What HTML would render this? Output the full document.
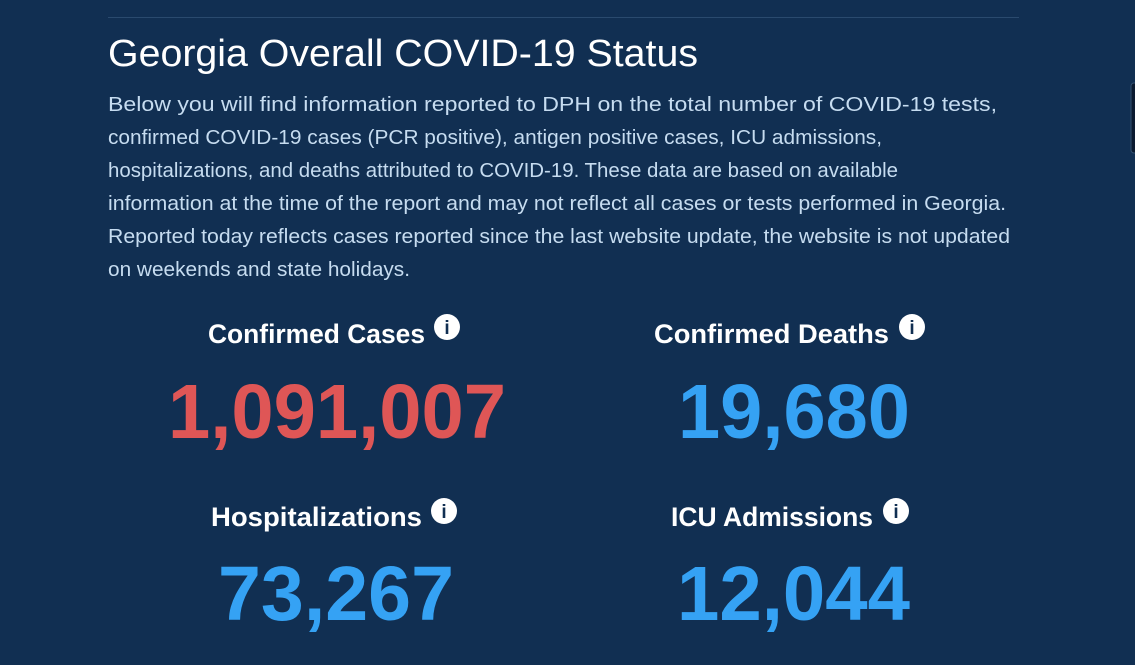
<!DOCTYPE html>
<html><head><meta charset="utf-8"><style>
html,body{margin:0;padding:0;background:#112f52;width:1135px;height:665px;overflow:hidden}
svg{display:block}
</style></head><body>
<svg width="1135" height="665" viewBox="0 0 1135 665" xmlns="http://www.w3.org/2000/svg" font-family="Liberation Sans, sans-serif">
<rect width="1135" height="665" fill="#112f52"/>
<line x1="108" y1="17.5" x2="1019" y2="17.5" stroke="#2a4a6e" stroke-width="1"/>
<rect x="1131" y="83" width="8" height="70" rx="3" fill="#0a1a30" stroke="#33506f" stroke-width="1"/>
<text x="108" y="66" font-size="38" fill="#ffffff" textLength="590" lengthAdjust="spacingAndGlyphs">Georgia Overall COVID-19 Status</text>
<g font-size="20" fill="#c6dcf0">
<text x="108" y="111" textLength="889" lengthAdjust="spacingAndGlyphs">Below you will find information reported to DPH on the total number of COVID-19 tests,</text>
<text x="108" y="144" textLength="774" lengthAdjust="spacingAndGlyphs">confirmed COVID-19 cases (PCR positive), antigen positive cases, ICU admissions,</text>
<text x="108" y="177" textLength="790" lengthAdjust="spacingAndGlyphs">hospitalizations, and deaths attributed to COVID-19. These data are based on available</text>
<text x="108" y="210" textLength="898" lengthAdjust="spacingAndGlyphs">information at the time of the report and may not reflect all cases or tests performed in Georgia.</text>
<text x="108" y="243" textLength="902" lengthAdjust="spacingAndGlyphs">Reported today reflects cases reported since the last website update, the website is not updated</text>
<text x="108" y="276" textLength="302" lengthAdjust="spacingAndGlyphs">on weekends and state holidays.</text>
</g>
<g font-size="27" font-weight="bold" fill="#ffffff">
<text x="208" y="343" textLength="217" lengthAdjust="spacingAndGlyphs">Confirmed Cases</text>
<text x="654" y="343" textLength="235" lengthAdjust="spacingAndGlyphs">Confirmed Deaths</text>
<text x="211" y="526" textLength="211" lengthAdjust="spacingAndGlyphs">Hospitalizations</text>
<text x="671" y="526" textLength="202" lengthAdjust="spacingAndGlyphs">ICU Admissions</text>
</g>
<g>
<circle cx="447" cy="327" r="13" fill="#fff"/><circle cx="912" cy="327" r="13" fill="#fff"/>
<circle cx="444" cy="511" r="13" fill="#fff"/><circle cx="896" cy="511" r="13" fill="#fff"/>
<g font-size="19" font-weight="bold" fill="#112f52" text-anchor="middle">
<text x="447" y="334">i</text><text x="912" y="334">i</text><text x="444" y="518">i</text><text x="896" y="518">i</text>
</g></g>
<g font-size="77" font-weight="bold">
<text x="168" y="438" fill="#df5656" textLength="338" lengthAdjust="spacingAndGlyphs">1,091,007</text>
<text x="678" y="438" fill="#35a2f4" textLength="232" lengthAdjust="spacingAndGlyphs">19,680</text>
<text x="218" y="620" fill="#35a2f4" textLength="236" lengthAdjust="spacingAndGlyphs">73,267</text>
<text x="677" y="620" fill="#35a2f4" textLength="233" lengthAdjust="spacingAndGlyphs">12,044</text>
</g>
</svg>
</body></html>
